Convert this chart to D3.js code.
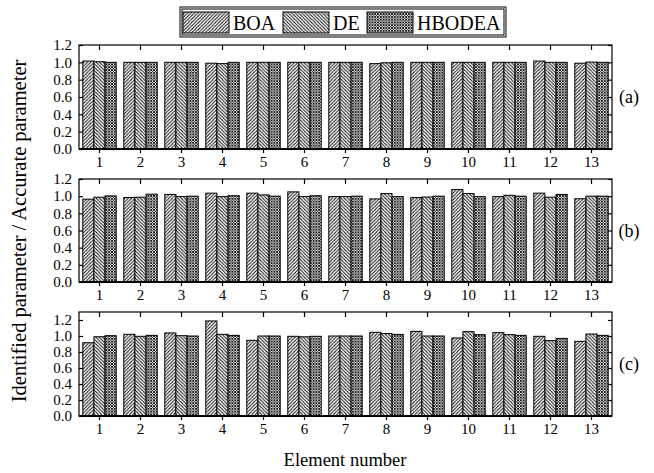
<!DOCTYPE html>
<html>
<head>
<meta charset="utf-8">
<script src="https://cdn.jsdelivr.net/npm/d3@7"></script>
<style>
  html, body { margin: 0; padding: 0; background: #fff; }
  svg text { font-family: "Liberation Serif", "Times New Roman", serif; fill: #000; }
</style>
</head>
<body>
<svg id="chart" width="654" height="473"></svg>
<script>
// Element numbers on the x axis
const elements = ["1","2","3","4","5","6","7","8","9","10","11","12","13"];
const seriesNames = ["BOA", "DE", "HBODEA"];

// Ratio of identified to accurate parameter, case (a)
const boaA    = [1.015, 1.00, 1.00, 0.99, 1.00, 1.00, 1.00, 0.985, 1.00, 1.00, 1.00, 1.015, 0.99];
const deA     = [1.007, 1.00, 1.00, 0.985, 1.00, 1.00, 1.00, 0.995, 1.00, 1.00, 1.00, 1.00, 1.003];
const hbodeaA = [1.00, 1.00, 1.00, 1.00, 1.00, 1.00, 1.00, 1.00, 1.00, 1.00, 1.00, 1.00, 1.00];

// case (b)
const boaB    = [0.965, 0.984, 1.02, 1.035, 1.035, 1.05, 0.995, 0.968, 0.984, 1.077, 0.995, 1.035, 0.97];
const deB     = [0.988, 0.988, 0.995, 0.995, 1.015, 0.995, 0.995, 1.03, 0.99, 1.03, 1.01, 0.988, 1.00];
const hbodeaB = [1.003, 1.023, 1.00, 1.005, 1.00, 1.005, 1.00, 0.995, 1.00, 0.995, 1.00, 1.02, 1.00];

// case (c)
const boaC    = [0.916, 1.021, 1.038, 1.188, 0.946, 0.996, 1.00, 1.046, 1.058, 0.975, 1.042, 0.996, 0.933];
const deC     = [0.991, 0.996, 1.004, 1.021, 1.00, 0.99, 1.00, 1.03, 1.00, 1.054, 1.017, 0.942, 1.025];
const hbodeaC = [1.004, 1.008, 1.00, 1.008, 1.00, 0.996, 1.00, 1.02, 1.00, 1.017, 1.008, 0.97, 1.008];

const yTicks = [0.0, 0.2, 0.4, 0.6, 0.8, 1.0, 1.2];

const panels = [
  { tag: "(a)", values: [boaA, deA, hbodeaA], yMax: 1.2, top: 45, bottom: 149 },
  { tag: "(b)", values: [boaB, deB, hbodeaB], yMax: 1.2, top: 179, bottom: 282 },
  { tag: "(c)", values: [boaC, deC, hbodeaC], yMax: 1.3, top: 312, bottom: 416 }
];

const svg = d3.select("#chart");
const left = 79, right = 612;

// Hatch fills for the three algorithms
const defs = svg.append("defs");
function hatch(id, dirs, size, sw) {
  const p = defs.append("pattern")
    .attr("id", id)
    .attr("patternUnits", "userSpaceOnUse")
    .attr("width", size).attr("height", size);
  p.append("rect").attr("width", size).attr("height", size).attr("fill", "#fff");
  dirs.forEach(dir => {
    const d = dir === "/"
      ? `M${-size},${size} L0,0 M0,${size} L${size},0 M${size},${size} L${2*size},0`
      : `M${-size},0 L0,${size} M0,0 L${size},${size} M${size},0 L${2*size},${size}`;
    p.append("path").attr("d", d).attr("stroke", "#000").attr("stroke-width", sw);
  });
  return `url(#${id})`;
}
const fills = [
  hatch("pBOA", ["/"], 3.4, 1.0),
  hatch("pDE", ["\\"], 3.4, 1.0),
  hatch("pHB", ["/", "\\"], 2.8, 0.9)
];

const x = d3.scaleBand().domain(elements).range([left, right])
  .paddingInner(0.185).paddingOuter(0.0925);
const xs = d3.scaleBand().domain(seriesNames).range([0, x.bandwidth()]);

panels.forEach(pn => {
  const y = d3.scaleLinear().domain([0, pn.yMax]).range([pn.bottom, pn.top]);
  const g = svg.append("g");

  // Bars
  seriesNames.forEach((s, si) => {
    g.append("g").selectAll("rect")
      .data(pn.values[si])
      .join("rect")
      .attr("x", (d, i) => x(elements[i]) + xs(s))
      .attr("y", d => y(d))
      .attr("width", xs.bandwidth())
      .attr("height", d => y(0) - y(d))
      .attr("fill", fills[si])
      .attr("stroke", "#000")
      .attr("stroke-width", 1);
  });

  // Frame
  g.append("rect")
    .attr("x", left).attr("y", pn.top)
    .attr("width", right - left).attr("height", pn.bottom - pn.top)
    .attr("fill", "none").attr("stroke", "#000").attr("stroke-width", 1.2);
  g.append("line")
    .attr("x1", left).attr("x2", right).attr("y1", pn.bottom).attr("y2", pn.bottom)
    .attr("stroke", "#000").attr("stroke-width", 2);

  // Left axis (inward ticks) with labels
  const yl = g.append("g").attr("transform", `translate(${left},0)`)
    .call(d3.axisLeft(y).tickValues(yTicks).tickFormat(d3.format(".1f")).tickSizeInner(-4).tickSizeOuter(0).tickPadding(7));
  yl.select(".domain").remove();
  yl.selectAll("text").style("font-size", "15px");

  // Right axis mirror ticks
  const yr = g.append("g").attr("transform", `translate(${right},0)`)
    .call(d3.axisRight(y).tickValues(yTicks).tickFormat("").tickSizeInner(-4).tickSizeOuter(0));
  yr.select(".domain").remove();

  // Bottom axis with element numbers
  const xb = g.append("g").attr("transform", `translate(0,${pn.bottom})`)
    .call(d3.axisBottom(x).tickSizeInner(4).tickSizeOuter(0).tickPadding(3));
  xb.select(".domain").remove();
  xb.selectAll("text").style("font-size", "15px");

  // Top axis mirror ticks
  const xt = g.append("g").attr("transform", `translate(0,${pn.top})`)
    .call(d3.axisTop(x).tickFormat("").tickSizeInner(-5).tickSizeOuter(0));
  xt.select(".domain").remove();

  svg.selectAll(".tick line").attr("stroke-width", 1.2);

  // Panel tag
  svg.append("text")
    .attr("x", 629).attr("y", (pn.top + pn.bottom) / 2)
    .attr("text-anchor", "middle").attr("dominant-baseline", "central")
    .style("font-size", "18px")
    .text(pn.tag);
});

// Axis titles
svg.append("text")
  .attr("transform", `translate(19,231) rotate(-90)`)
  .attr("text-anchor", "middle").attr("dominant-baseline", "central")
  .style("font-size", "20.5px")
  .text("Identified parameter / Accurate parameter");

svg.append("text")
  .attr("x", 345).attr("y", 460)
  .attr("text-anchor", "middle").attr("dominant-baseline", "central")
  .style("font-size", "18.5px")
  .text("Element number");

// Legend with double border
const lg = svg.append("g");
lg.append("rect").attr("x", 180).attr("y", 7).attr("width", 326).attr("height", 30)
  .attr("fill", "#fff").attr("stroke", "#000").attr("stroke-width", 1);
lg.append("rect").attr("x", 182).attr("y", 9).attr("width", 322).attr("height", 26)
  .attr("fill", "none").attr("stroke", "#000").attr("stroke-width", 1);
const legendX = [183, 283, 367];
const legendSample = d3.scaleOrdinal().domain(seriesNames).range(legendX);
seriesNames.forEach((s, i) => {
  lg.append("rect").attr("x", legendSample(s)).attr("y", 12)
    .attr("width", 46).attr("height", 21)
    .attr("fill", fills[i]).attr("stroke", "#000").attr("stroke-width", 1);
  lg.append("text").attr("x", legendSample(s) + 50).attr("y", 23)
    .attr("dominant-baseline", "central")
    .style("font-size", "20px")
    .text(s);
});
</script>
</body>
</html>
